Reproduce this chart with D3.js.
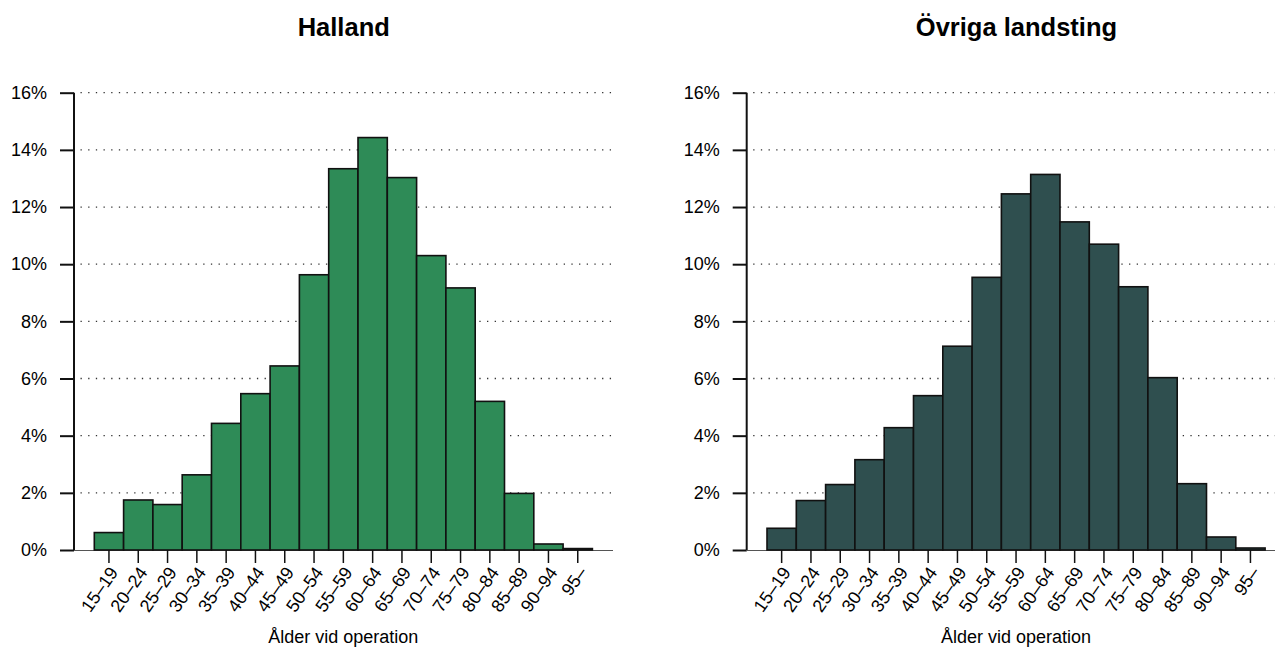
<!DOCTYPE html>
<html><head><meta charset="utf-8">
<script src="https://cdn.jsdelivr.net/npm/d3@7"></script>
<style>body{margin:0;background:#fff}svg{display:block}text{font-family:"Liberation Sans",Arial,sans-serif;fill:#000}</style>
</head><body>
<svg id="c" width="1275" height="648"></svg>
<script>
const ageGroups = ["15–19","20–24","25–29","30–34","35–39","40–44","45–49","50–54","55–59","60–64","65–69","70–74","75–79","80–84","85–89","90–94","95–"];
const hallandPct = [0.61,1.75,1.59,2.63,4.43,5.47,6.44,9.63,13.34,14.43,13.03,10.30,9.17,5.20,1.98,0.21,0.05];
const ovrigaPct = [0.76,1.73,2.29,3.16,4.28,5.40,7.13,9.54,12.46,13.14,11.48,10.70,9.21,6.03,2.32,0.455,0.07];
const yTicks = [0,2,4,6,8,10,12,14,16];
const panelTitles = ["Halland","Övriga landsting"];
const xTitle = "Ålder vid operation";
const fills = ["#2E8B57","#2F4F4F"];

const svg = d3.select("#c");
const panels = [
  {ox:0, data:hallandPct, title:panelTitles[0], fill:fills[0]},
  {ox:672.7, data:ovrigaPct, title:panelTitles[1], fill:fills[1]}
];
panels.forEach(p => {
  const g = svg.append("g").attr("transform", `translate(${p.ox},0)`);
  const axX = 74, plotRight = 612.5;
  const x = d3.scaleBand().domain(ageGroups).range([94.3, 592.4]).padding(0);
  const y = d3.scaleLinear().domain([0,16]).range([550, 92.7]);
  // grid
  g.append("g").selectAll("line").data(yTicks.filter(d=>d>0)).join("line")
    .attr("x1", axX+6.5).attr("x2", plotRight).attr("y1", d=>y(d)).attr("y2", d=>y(d))
    .attr("stroke","#333").attr("stroke-width",1.3).attr("stroke-dasharray","1.3 6.37");
  // baseline
  g.append("line").attr("x1",axX).attr("x2", p.ox>0 ? 1275-p.ox : 613).attr("y1",550.5).attr("y2",550.5)
    .attr("stroke","#555").attr("stroke-width",1);
  // bars
  g.append("g").selectAll("rect").data(p.data).join("rect")
    .attr("x",(d,i)=>x(ageGroups[i])).attr("width",x.bandwidth())
    .attr("y",d=>y(d)).attr("height",d=>y(0)-y(d))
    .attr("fill",p.fill).attr("stroke","#111").attr("stroke-width",1.6);
  // y axis
  const ya = d3.axisLeft(y).tickValues(yTicks).tickFormat(d=>d+"%").tickSize(14).tickPadding(13);
  const yg = g.append("g").attr("transform",`translate(${axX},0)`).call(ya);
  yg.select(".domain").attr("stroke","#111").attr("stroke-width",2).attr("d",`M0,${y(16)}V${y(0)}`);
  yg.selectAll(".tick line").attr("stroke","#111").attr("stroke-width",2);
  yg.selectAll(".tick text").attr("font-size",18).attr("font-family","Liberation Sans, Arial, sans-serif").attr("fill","#111");
  // x axis
  const xa = d3.axisBottom(x).tickSize(13).tickSizeOuter(0);
  const xg = g.append("g").attr("transform","translate(0,550)").call(xa);
  xg.select(".domain").remove();
  xg.selectAll(".tick line").attr("stroke","#111").attr("stroke-width",1.5);
  xg.selectAll(".tick text").attr("font-size",18).attr("font-family","Liberation Sans, Arial, sans-serif").attr("fill","#111")
    .attr("text-anchor","end").attr("dy",null).attr("y",null)
    .attr("transform","translate(5,19) rotate(-55)").attr("dominant-baseline","central");
  // titles
  g.append("text").attr("x",(axX+612.5)/2+0.5).attr("y",36).attr("text-anchor","middle")
    .attr("font-size",25.5).attr("font-weight","bold").text(p.title);
  g.append("text").attr("x",(axX+612.5)/2).attr("y",643).attr("text-anchor","middle")
    .attr("font-size",18).text(xTitle);
});
</script>
</body></html>
